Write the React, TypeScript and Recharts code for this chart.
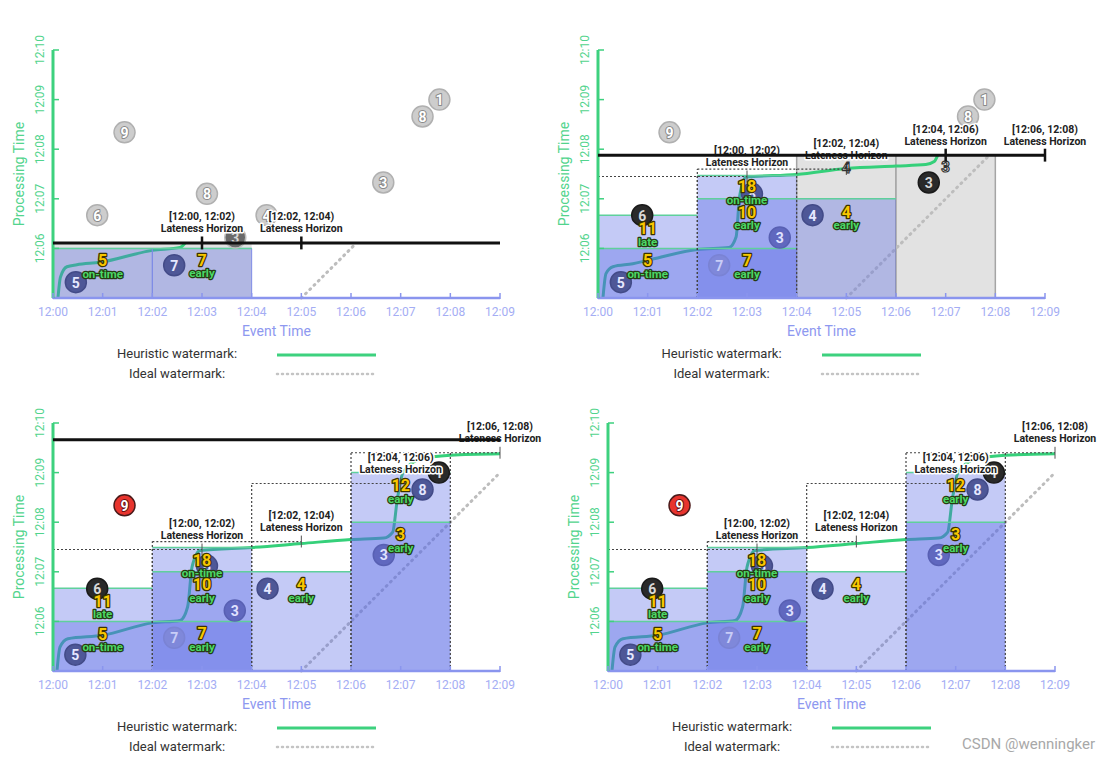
import React from 'react'
import { ComposedChart, XAxis, YAxis, Line, Scatter, ReferenceArea, ReferenceLine } from 'recharts'

// event time on x (minutes after 12:00), processing time on y (minutes after 12:00)
const minuteTicks = [0, 1, 2, 3, 4, 5, 6, 7, 8, 9]
const timeTicks = [6, 7, 8, 9, 10]
const fmt = (m: number) => `12:${m < 10 ? '0' : ''}${m}`

// ---- panel 1 (top left)
const p1Now = 6.11
const p1NowEnd = 9
const p1NowTicks = [3, 5]
const p1Gray = [{ x1: 0, x2: 4 }]
const p1Panes = [{ x1: 0, x2: 2, top: 6 }, { x1: 2, x2: 4, top: 6 }]
const p1Boxes: any[] = []
const p1Watermark = [
  { x: 0.1, y: 5 }, { x: 0.15, y: 5.42 }, { x: 0.28, y: 5.63 }, { x: 0.48, y: 5.67 },
  { x: 0.95, y: 5.72 }, { x: 2, y: 5.96 }, { x: 2.56, y: 6.02 }, { x: 2.66, y: 6.11 },
]
const p1Ideal = [{ x: 5, y: 5 }, { x: 6.1, y: 6.1 }]
const p1Points = [
  { x: 0.46, y: 5.32, n: '5', kind: 'navy' },
  { x: 2.44, y: 5.66, n: '7', kind: 'navy' },
  { x: 0.89, y: 6.67, n: '6', kind: 'gray' },
  { x: 1.44, y: 8.34, n: '9', kind: 'gray' },
  { x: 3.1, y: 7.1, n: '8', kind: 'gray' },
  { x: 4.3, y: 6.67, n: '4', kind: 'gray' },
  { x: 3.67, y: 6.22, n: '3', kind: 'hit' },
  { x: 6.65, y: 7.33, n: '3', kind: 'gray' },
  { x: 7.44, y: 8.66, n: '8', kind: 'gray' },
  { x: 7.78, y: 9.0, n: '1', kind: 'gray' },
]
const p1Results = [
  { x: 1, y: 5.75, value: '5', tag: 'on-time' },
  { x: 3, y: 5.76, value: '7', tag: 'early' },
]
const p1Horizons = [
  { x: 3, y: 6.11, label: '[12:00, 12:02)' },
  { x: 5, y: 6.11, label: '[12:02, 12:04)' },
]

// ---- panel 2 (top right)
const p2Now = 7.88
const p2NowEnd = 9
const p2NowTicks = [7, 9]
const p2Gray = [{ x1: 4, x2: 6 }, { x1: 6, x2: 8 }]
const p2Panes = [
  { x1: 0, x2: 2, top: 6 }, { x1: 0, x2: 2, top: 6.67 },
  { x1: 2, x2: 4, top: 6 }, { x1: 2, x2: 4, top: 7 }, { x1: 2, x2: 4, top: 7.47 },
  { x1: 4, x2: 6, top: 7 },
]
const p2Boxes = [
  { x1: 0, x2: 2, h: 3, top: 7.45 },
  { x1: 2, x2: 4, h: 5, top: 7.6 },
]
const p2Watermark = [
  { x: 0.1, y: 5 }, { x: 0.16, y: 5.49 }, { x: 0.3, y: 5.63 }, { x: 0.7, y: 5.69 },
  { x: 1, y: 5.76 }, { x: 2, y: 5.98 }, { x: 2.64, y: 6.02 }, { x: 2.78, y: 6.23 },
  { x: 2.85, y: 7.04 }, { x: 2.98, y: 7.44 }, { x: 4, y: 7.49 }, { x: 5, y: 7.61 },
  { x: 6, y: 7.66 }, { x: 6.6, y: 7.69 }, { x: 6.77, y: 7.75 }, { x: 6.84, y: 7.88 },
]
const p2Ideal = [{ x: 5, y: 5 }, { x: 7.85, y: 7.85 }]
const p2Points = [
  { x: 0.46, y: 5.32, n: '5', kind: 'navy' },
  { x: 2.44, y: 5.66, n: '7', kind: 'faded' },
  { x: 0.89, y: 6.67, n: '6', kind: 'black' },
  { x: 1.44, y: 8.34, n: '9', kind: 'gray' },
  { x: 3.1, y: 7.1, n: '8', kind: 'navy' },
  { x: 3.66, y: 6.22, n: '3', kind: 'mid' },
  { x: 4.32, y: 6.67, n: '4', kind: 'navy' },
  { x: 6.66, y: 7.33, n: '3', kind: 'black' },
  { x: 7.45, y: 8.66, n: '8', kind: 'gray' },
  { x: 7.78, y: 9.0, n: '1', kind: 'gray' },
  { x: 5, y: 7.63, n: '4', kind: 'ghost' },
  { x: 7, y: 7.64, n: '3', kind: 'ghost' },
]
const p2Results = [
  { x: 1, y: 5.75, value: '5', tag: 'on-time' },
  { x: 1, y: 6.4, value: '11', tag: 'late' },
  { x: 3, y: 5.75, value: '7', tag: 'early' },
  { x: 3, y: 6.73, value: '10', tag: 'early' },
  { x: 3, y: 7.24, value: '18', tag: 'on-time' },
  { x: 5, y: 6.73, value: '4', tag: 'early' },
]
const p2Horizons = [
  { x: 3, y: 7.45, label: '[12:00, 12:02)' },
  { x: 5, y: 7.6, label: '[12:02, 12:04)' },
  { x: 7, y: 7.88, label: '[12:04, 12:06)' },
  { x: 9, y: 7.88, label: '[12:06, 12:08)' },
]

// ---- panels 3 and 4 (bottom): same snapshot, panel 4 drops the processing-time line
const p3Now = 9.66
const p3NowEnd = 9
const p3NowTicks: number[] = []
const p3Gray: any[] = []
const p3Panes = [
  { x1: 0, x2: 2, top: 6 }, { x1: 0, x2: 2, top: 6.67 },
  { x1: 2, x2: 4, top: 6 }, { x1: 2, x2: 4, top: 7 }, { x1: 2, x2: 4, top: 7.49 },
  { x1: 4, x2: 6, top: 7 },
  { x1: 6, x2: 8, top: 8 }, { x1: 6, x2: 8, top: 9 },
]
const p3Boxes = [
  { x1: 0, x2: 2, h: 3, top: 7.45 },
  { x1: 2, x2: 4, h: 5, top: 7.61 },
  { x1: 4, x2: 6, h: 7, top: 8.78 },
  { x1: 6, x2: 8, h: 9, top: 9.4 },
]
const p3Watermark = [
  { x: 0.08, y: 5 }, { x: 0.14, y: 5.48 }, { x: 0.3, y: 5.65 }, { x: 1, y: 5.72 },
  { x: 2, y: 5.97 }, { x: 2.56, y: 6.02 }, { x: 2.71, y: 6.29 }, { x: 2.8, y: 7.1 },
  { x: 2.96, y: 7.43 }, { x: 4, y: 7.49 }, { x: 5, y: 7.57 }, { x: 6, y: 7.65 },
  { x: 6.66, y: 7.68 }, { x: 6.84, y: 7.8 }, { x: 6.93, y: 8.44 }, { x: 7.05, y: 9.01 },
  { x: 7.41, y: 9.28 }, { x: 8, y: 9.35 }, { x: 9, y: 9.38 },
]
const p3Ideal = [{ x: 5, y: 5 }, { x: 9, y: 9 }]
const p3Points = [
  { x: 0.45, y: 5.33, n: '5', kind: 'navy' },
  { x: 2.44, y: 5.67, n: '7', kind: 'faded' },
  { x: 0.89, y: 6.66, n: '6', kind: 'black' },
  { x: 1.44, y: 8.34, n: '9', kind: 'red' },
  { x: 3.1, y: 7.12, n: '8', kind: 'navy' },
  { x: 3.66, y: 6.22, n: '3', kind: 'mid' },
  { x: 4.32, y: 6.66, n: '4', kind: 'navy' },
  { x: 6.66, y: 7.34, n: '3', kind: 'mid' },
  { x: 7.44, y: 8.66, n: '8', kind: 'navy' },
  { x: 7.77, y: 9.0, n: '1', kind: 'black' },
]
const p3Results = [
  { x: 1, y: 5.74, value: '5', tag: 'on-time' },
  { x: 1, y: 6.41, value: '11', tag: 'late' },
  { x: 3, y: 5.75, value: '7', tag: 'early' },
  { x: 3, y: 6.74, value: '10', tag: 'early' },
  { x: 3, y: 7.23, value: '18', tag: 'on-time' },
  { x: 5, y: 6.74, value: '4', tag: 'early' },
  { x: 7, y: 7.75, value: '3', tag: 'early' },
  { x: 7, y: 8.73, value: '12', tag: 'early' },
]
const p3Horizons = [
  { x: 3, y: 7.45, label: '[12:00, 12:02)' },
  { x: 5, y: 7.61, label: '[12:02, 12:04)' },
  { x: 7, y: 8.78, label: '[12:04, 12:06)' },
  { x: 9, y: 9.41, label: '[12:06, 12:08)' },
]
const p4Now: number | null = null

const FONT = 'Roboto, "Noto Sans", sans-serif'
const GREEN = '#3dd17e'
const BLUE_AXIS = '#8a95ee'
const PANE_FILL = 'rgb(86,104,229)'

const pointStyles: Record<string, any> = {
  navy: { fill: '#4e5797', stroke: '#434b88', text: '#e6e8ff' },
  mid: { fill: '#6068bf', stroke: '#5860b3', text: '#e0e3ff' },
  faded: { fill: '#7f88da', stroke: '#7a83d4', text: '#c9cdf7' },
  black: { fill: '#2a2a2a', stroke: '#1a1a1a', text: '#d8d8d8' },
  gray: { fill: '#cdcdcd', stroke: '#b0b0b0', text: '#ffffff', outline: '#8a8a8a' },
  red: { fill: '#e8342e', stroke: '#4a1a1a', text: '#ffffff', outline: '#6a1010' },
  hit: { fill: '#6a6a6a', stroke: '#bdbdbd', text: '#d6d6d6' },
}

const XTick = ({ x, y, payload }: any) => (
  <g>
    <line x1={x} x2={x} y1={y - 5} y2={y + 1} stroke={BLUE_AXIS} strokeWidth={1.5} />
    <text x={x} y={y + 18} textAnchor="middle" fill="#a4adf4" fontSize={12} fontFamily={FONT}>{fmt(payload.value)}</text>
  </g>
)

const YTick = ({ x, y, payload }: any) => (
  <g>
    <line x1={x} x2={x + 6} y1={y} y2={y} stroke={GREEN} strokeWidth={1.5} />
    <text x={x - 13} y={y} transform={`rotate(-90 ${x - 13} ${y})`} textAnchor="middle"
      dominantBaseline="central" fill="#52d48d" fontSize={12} fontFamily={FONT}>{fmt(payload.value)}</text>
  </g>
)

const YTitle = ({ viewBox }: any) => {
  const x = viewBox.x + 11
  const y = viewBox.y + viewBox.height / 2
  return (
    <text x={x} y={y} transform={`rotate(-90 ${x} ${y})`} textAnchor="middle" dominantBaseline="central"
      fill="#52d48d" fontSize={14} fontFamily={FONT}>Processing Time</text>
  )
}

const PointShape = (props: any) => {
  const { cx, cy, payload } = props
  if (payload.kind === 'ghost') {
    return (
      <text x={cx} y={cy} textAnchor="middle" dominantBaseline="central" fontSize={15} fontWeight={700}
        fontFamily={FONT} fill="#fff" stroke="#333" strokeWidth={1.2}>{payload.n}</text>
    )
  }
  const s = pointStyles[payload.kind]
  return (
    <g>
      <circle cx={cx} cy={cy} r={10.5} fill={s.fill} stroke={s.stroke} strokeWidth={1.5} />
      <text x={cx} y={cy + 0.5} textAnchor="middle" dominantBaseline="central" fontSize={14} fontWeight={700}
        fontFamily={FONT} fill={s.text} stroke={s.outline || 'none'} strokeWidth={s.outline ? 2 : 0}
        strokeLinejoin="round" style={{ paintOrder: 'stroke' }}>{payload.n}</text>
    </g>
  )
}

const ResultShape = ({ cx, cy, payload }: any) => (
  <g textAnchor="middle" fontWeight={700} fontFamily={FONT}>
    <text x={cx} y={cy} dominantBaseline="central" fontSize={16} fill="#f8c700" stroke="#3b3200"
      strokeWidth={2.5} strokeLinejoin="round" style={{ paintOrder: 'stroke' }}>{payload.value}</text>
    <text x={cx} y={cy + 13} dominantBaseline="central" fontSize={11.5} fill="#4bd867" stroke="#263a12"
      strokeWidth={2.5} strokeLinejoin="round" style={{ paintOrder: 'stroke' }}>{payload.tag}</text>
  </g>
)

const HorizonShape = ({ cx, cy, payload }: any) => (
  <g textAnchor="middle" fontWeight={700} fontFamily={FONT} fontSize={10.5} fill="#222">
    <text x={cx} y={cy - 26} dominantBaseline="central" stroke="#fff" strokeWidth={3}
      strokeLinejoin="round" style={{ paintOrder: 'stroke' }}>{payload.label}</text>
    <text x={cx} y={cy - 14} dominantBaseline="central" stroke="#fff" strokeWidth={3}
      strokeLinejoin="round" style={{ paintOrder: 'stroke' }}>Lateness Horizon</text>
  </g>
)

function Legend() {
  return (
    <div style={{ position: 'absolute', left: 0, top: 346, width: 400, height: 40, fontFamily: FONT, fontSize: 13, color: '#333' }}>
      <div style={{ position: 'absolute', left: 97, width: 160, top: 0, textAlign: 'center' }}>Heuristic watermark:</div>
      <div style={{ position: 'absolute', left: 97, width: 160, top: 20, textAlign: 'center' }}>Ideal watermark:</div>
      <svg style={{ position: 'absolute', left: 0, top: 0 }} width={400} height={40}>
        <line x1={277} x2={376} y1={9} y2={9} stroke={GREEN} strokeWidth={3} />
        <line x1={277} x2={376} y1={28} y2={28} stroke="#c4c4c4" strokeWidth={2.5} strokeDasharray="1 4" strokeLinecap="round" />
      </svg>
    </div>
  )
}

interface PanelProps {
  left: number; top: number
  now: number | null; nowEnd: number; nowTicks: number[]
  gray: any[]; panes: any[]; boxes: any[]
  watermark: any[]; ideal: any[]; points: any[]; results: any[]; horizons: any[]
  bordered?: boolean
}

function Panel(p: PanelProps) {
  return (
    <div style={{ position: 'absolute', left: p.left, top: p.top, width: 600, height: 390 }}>
      <ComposedChart width={600} height={344} margin={{ top: 50, right: 100, bottom: 8, left: 8 }}>
        <XAxis type="number" dataKey="x" domain={[0, 9]} ticks={minuteTicks} interval={0}
          height={38} tickSize={0} tickMargin={0} tickLine={false} tick={<XTick />}
          axisLine={{ stroke: BLUE_AXIS, strokeWidth: 2.5 }}
          label={{ value: 'Event Time', position: 'insideBottom', offset: 0, fill: '#8e98f0', fontSize: 14, fontFamily: FONT }} />
        <YAxis type="number" dataKey="y" domain={[5, 10]} ticks={timeTicks} interval={0}
          width={45} tickSize={0} tickMargin={0} tickLine={false} tick={<YTick />}
          axisLine={{ stroke: GREEN, strokeWidth: 3 }} label={<YTitle />} />

        {p.gray.map((g, i) => (
          <ReferenceArea key={'g' + i} x1={g.x1} x2={g.x2} y1={5} y2={p.now ?? 5}
            fill="#e2e2e2" fillOpacity={1} stroke={p.bordered ? 'none' : '#a5a5a5'} strokeWidth={1.5} zIndex={20} />
        ))}

        <Line data={p.ideal} dataKey="y" type="linear" dot={false} stroke="#bdbdbd" strokeWidth={3}
          strokeDasharray="1 5" strokeLinecap="round" isAnimationActive={false} zIndex={40} />
        <Line data={p.watermark} dataKey="y" type="monotone" dot={false} stroke="#35d07a" strokeWidth={3}
          isAnimationActive={false} zIndex={50} />

        {p.panes.map((r, i) => (
          <ReferenceArea key={'p' + i} x1={r.x1} x2={r.x2} y1={5} y2={r.top} fill={PANE_FILL} fillOpacity={0.35}
            stroke={p.bordered ? '#7f8ce6' : 'none'} strokeWidth={1} zIndex={100} />
        ))}
        {p.panes.map((r, i) => (
          <ReferenceLine key={'pt' + i} segment={[{ x: r.x1, y: r.top }, { x: r.x2, y: r.top }]}
            stroke="#5fd09c" strokeWidth={1.5} zIndex={110} />
        ))}

        {p.boxes.map((b, i) => (
          <ReferenceLine key={'bt' + i} segment={[{ x: b.x1, y: b.top }, { x: b.h, y: b.top }]}
            stroke="#444" strokeWidth={1.2} strokeDasharray="2 2" ifOverflow="visible" zIndex={120} />
        ))}
        {p.boxes.map((b, i) => (
          <ReferenceLine key={'bl' + i} segment={[{ x: b.x1, y: 5 }, { x: b.x1, y: b.top }]}
            stroke="#444" strokeWidth={1.2} strokeDasharray="2 2" zIndex={120} />
        ))}
        {p.boxes.map((b, i) => (
          <ReferenceLine key={'br' + i} segment={[{ x: b.x2, y: 5 }, { x: b.x2, y: b.top }]}
            stroke="#444" strokeWidth={1.2} strokeDasharray="2 2" zIndex={120} />
        ))}
        {p.boxes.map((b, i) => (
          <ReferenceLine key={'bh' + i} segment={[{ x: b.h, y: b.top - 0.12 }, { x: b.h, y: b.top + 0.12 }]}
            stroke="#555" strokeWidth={1} ifOverflow="visible" zIndex={120} />
        ))}

        <Scatter data={p.points} dataKey="y" shape={<PointShape />} isAnimationActive={false} zIndex={600} />
        <Scatter data={p.horizons} dataKey="y" shape={<HorizonShape />} isAnimationActive={false} zIndex={650} />

        {p.now !== null && (
          <ReferenceLine segment={[{ x: 0, y: p.now }, { x: p.nowEnd, y: p.now }]} stroke="#111"
            strokeWidth={3} ifOverflow="visible" zIndex={700} />
        )}
        {p.now !== null && p.nowTicks.map((t, i) => (
          <ReferenceLine key={'nt' + i} segment={[{ x: t, y: p.now! - 0.13 }, { x: t, y: p.now! + 0.13 }]}
            stroke="#111" strokeWidth={2.5} ifOverflow="visible" zIndex={700} />
        ))}

        <Scatter data={p.results} dataKey="y" shape={<ResultShape />} isAnimationActive={false} zIndex={800} />
      </ComposedChart>
      <Legend />
    </div>
  )
}

export default function App() {
  return (
    <div style={{ position: 'absolute', left: 0, top: 0, width: 1119, height: 764, overflow: 'hidden', background: '#fff' }}>
      <Panel left={0} top={0} now={p1Now} nowEnd={p1NowEnd} nowTicks={p1NowTicks} gray={p1Gray}
        panes={p1Panes} boxes={p1Boxes} watermark={p1Watermark} ideal={p1Ideal} points={p1Points}
        results={p1Results} horizons={p1Horizons} bordered />
      <Panel left={544.5} top={0} now={p2Now} nowEnd={p2NowEnd} nowTicks={p2NowTicks} gray={p2Gray}
        panes={p2Panes} boxes={p2Boxes} watermark={p2Watermark} ideal={p2Ideal} points={p2Points}
        results={p2Results} horizons={p2Horizons} />
      <Panel left={0} top={372.5} now={p3Now} nowEnd={p3NowEnd} nowTicks={p3NowTicks} gray={p3Gray}
        panes={p3Panes} boxes={p3Boxes} watermark={p3Watermark} ideal={p3Ideal} points={p3Points}
        results={p3Results} horizons={p3Horizons} />
      <Panel left={555} top={372.5} now={p4Now} nowEnd={p3NowEnd} nowTicks={p3NowTicks} gray={p3Gray}
        panes={p3Panes} boxes={p3Boxes} watermark={p3Watermark} ideal={p3Ideal} points={p3Points}
        results={p3Results} horizons={p3Horizons} />
      <div style={{ position: 'absolute', left: 962, top: 735, fontFamily: FONT, fontSize: 15, color: '#a8a8a8' }}>
        CSDN @wenningker
      </div>
    </div>
  )
}
